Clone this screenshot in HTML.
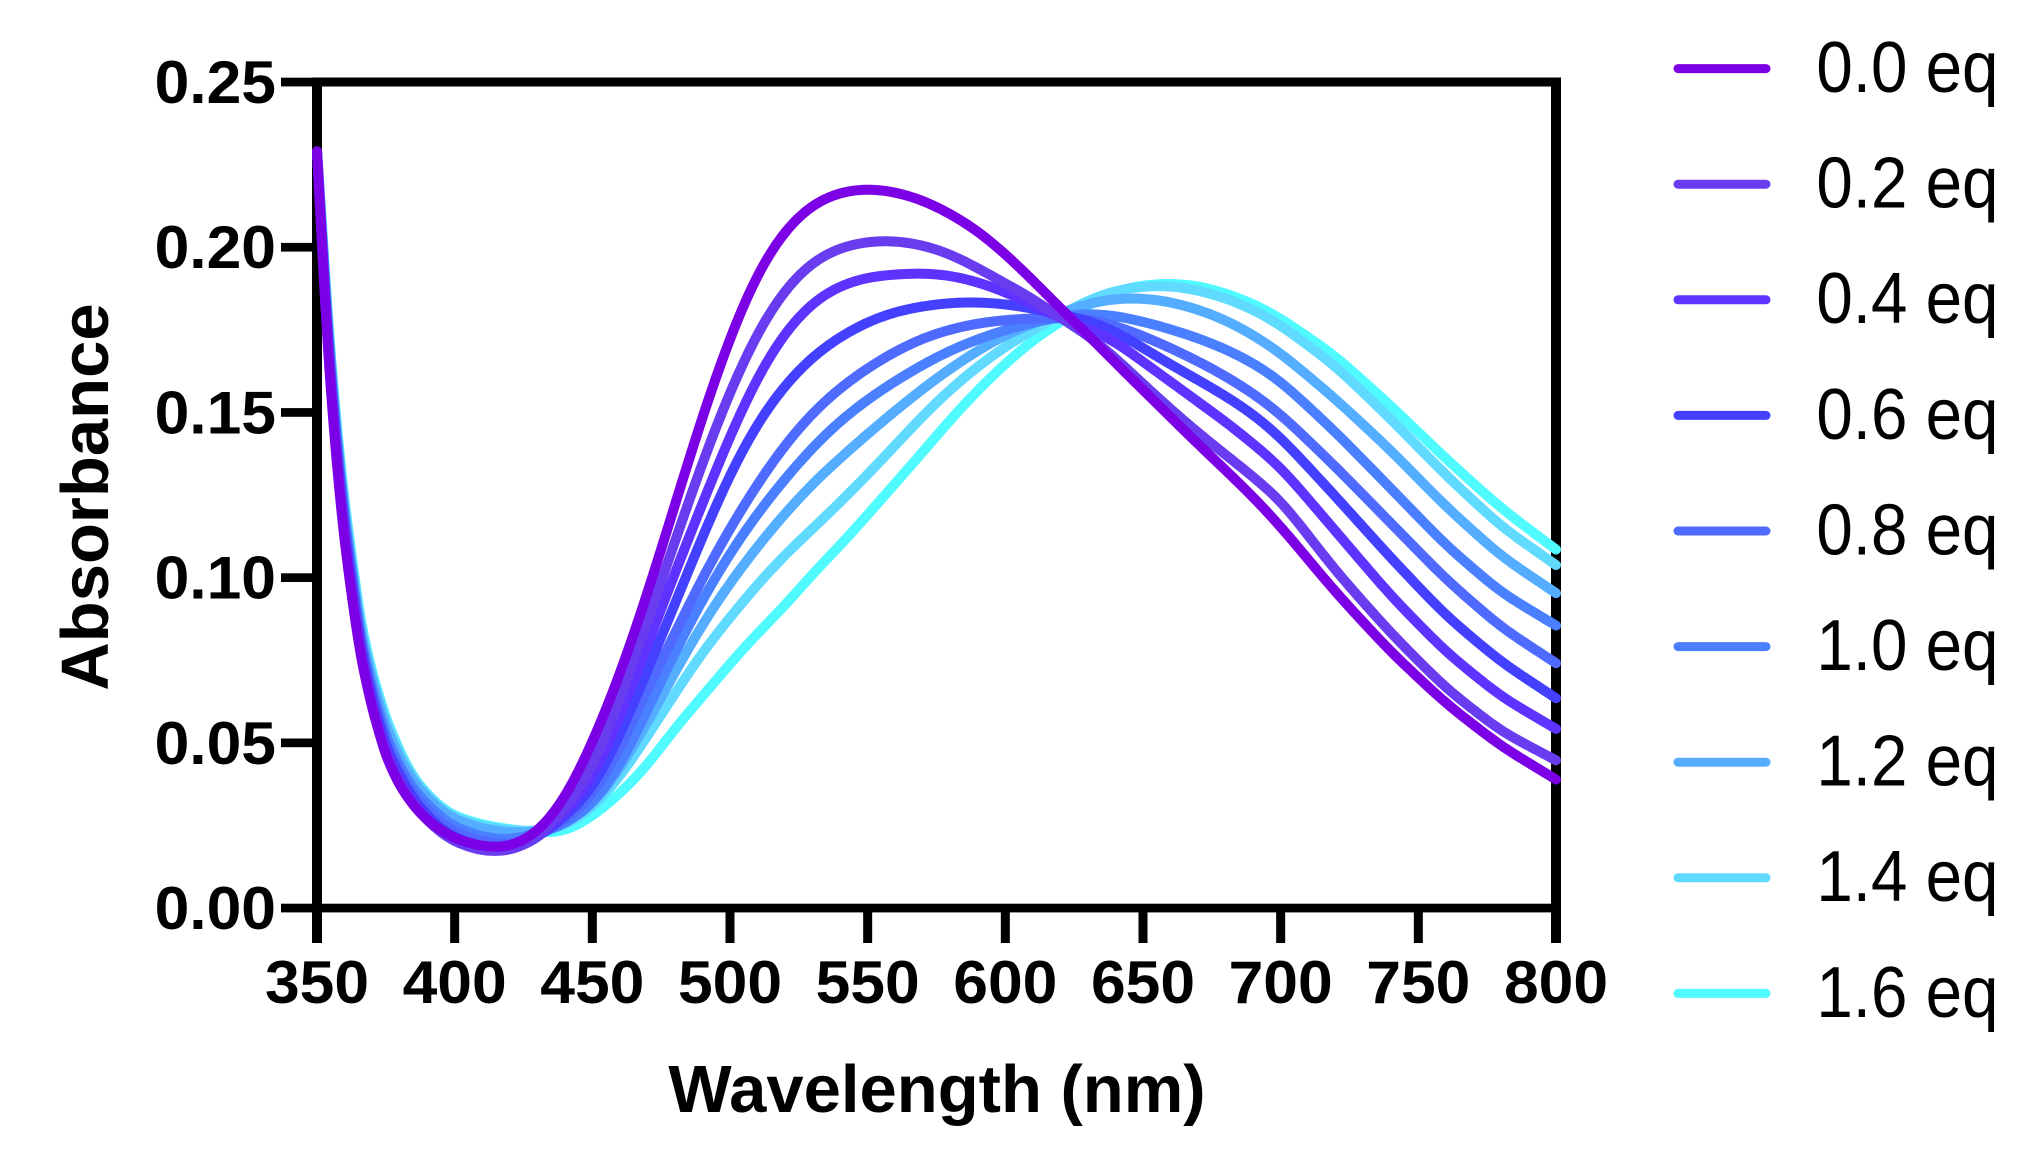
<!DOCTYPE html>
<html lang="en">
<head>
<meta charset="utf-8">
<title>Absorbance vs Wavelength</title>
<style>
html,body{margin:0;padding:0;background:#fff;}
svg{display:block;}
text{font-family:"Liberation Sans",sans-serif;fill:#000;}
.tick{font-weight:bold;font-size:60px;}
.title{font-weight:bold;font-size:67px;}
.leg{font-size:72px;}
</style>
</head>
<body>
<svg id="chart" xmlns="http://www.w3.org/2000/svg" width="2032" height="1157" viewBox="0 0 2032 1157">
  <rect x="0" y="0" width="2032" height="1157" fill="#fff"/>
  <g id="frame"></g>
  <g id="curves" fill="none" stroke-linecap="round" stroke-linejoin="round"></g>
  <g id="ticks"></g>
  <text class="title" x="937" y="1112" text-anchor="middle">Wavelength (nm)</text>
  <text class="title" text-anchor="middle" transform="translate(108,497) rotate(-90)">Absorbance</text>
  <g>
    <g><line x1="1678" x2="1766" y1="68.6" y2="68.6" stroke="#7B00E6" stroke-width="9" stroke-linecap="round"/><text class="leg" text-anchor="end" transform="translate(1998.5,92) scale(.91,1)">0.0 eq</text></g>
    <g><line x1="1678" x2="1766" y1="184.2" y2="184.2" stroke="#6A3CEF" stroke-width="9" stroke-linecap="round"/><text class="leg" text-anchor="end" transform="translate(1998.5,207.6) scale(.91,1)">0.2 eq</text></g>
    <g><line x1="1678" x2="1766" y1="299.8" y2="299.8" stroke="#5E33FF" stroke-width="9" stroke-linecap="round"/><text class="leg" text-anchor="end" transform="translate(1998.5,323.2) scale(.91,1)">0.4 eq</text></g>
    <g><line x1="1678" x2="1766" y1="415.4" y2="415.4" stroke="#4440FF" stroke-width="9" stroke-linecap="round"/><text class="leg" text-anchor="end" transform="translate(1998.5,438.8) scale(.91,1)">0.6 eq</text></g>
    <g><line x1="1678" x2="1766" y1="531" y2="531" stroke="#4F6BFF" stroke-width="9" stroke-linecap="round"/><text class="leg" text-anchor="end" transform="translate(1998.5,554.4) scale(.91,1)">0.8 eq</text></g>
    <g><line x1="1678" x2="1766" y1="646.6" y2="646.6" stroke="#4A80FF" stroke-width="9" stroke-linecap="round"/><text class="leg" text-anchor="end" transform="translate(1998.5,670) scale(.91,1)">1.0 eq</text></g>
    <g><line x1="1678" x2="1766" y1="762.2" y2="762.2" stroke="#54ADFF" stroke-width="9" stroke-linecap="round"/><text class="leg" text-anchor="end" transform="translate(1998.5,785.6) scale(.91,1)">1.2 eq</text></g>
    <g><line x1="1678" x2="1766" y1="877.8" y2="877.8" stroke="#60DAFF" stroke-width="9" stroke-linecap="round"/><text class="leg" text-anchor="end" transform="translate(1998.5,901.2) scale(.91,1)">1.4 eq</text></g>
    <g><line x1="1678" x2="1766" y1="993.4" y2="993.4" stroke="#50FBFF" stroke-width="9" stroke-linecap="round"/><text class="leg" text-anchor="end" transform="translate(1998.5,1016.8) scale(.91,1)">1.6 eq</text></g>
  </g>
</svg>
<script>
const wavelengths = [
350,352,354,356,358,360,363,366,370,375,
380,385,390,395,400,410,420,430,440,450,
460,470,480,490,500,510,520,530,540,550,
560,570,580,590,600,610,620,630,640,650,
660,670,680,690,700,720,740,760,780,800];

const eq00 = [
.229,.197,.168,.146,.127,.111,.092,.0755,.0605,.046,
.037,.031,.0265,.0235,.021,.0186,.0184,.0226,.0325,.0497,
.0703,.095,.122,.149,.173,.1925,.2055,.2132,.2168,.2178,
.2168,.2143,.2102,.205,.198,.19,.1815,.1735,.165,.1568,
.1486,.1404,.1325,.1245,.1155,.0955,.0775,.0619,.049,.0389];
const eq02 = [
.229,.198,.169,.147,.128,.112,.093,.076,.061,.0465,
.0375,.031,.0265,.0228,.02,.0172,.0172,.021,.03,.0415,
.063,.0865,.111,.135,.1565,.1745,.1875,.1958,.2,.2018,
.202,.2007,.198,.1937,.189,.1845,.1785,.1735,.1665,.1586,
.151,.1438,.1372,.1305,.1235,.102,.0832,.0665,.0535,.0447];
const eq04 = [
.229,.199,.17,.148,.129,.113,.094,.077,.062,.0475,
.0385,.0318,.027,.023,.0203,.0175,.0172,.0208,.0285,.0385,
.0577,.0795,.1015,.1225,.143,.161,.1745,.1835,.1885,.191,
.1918,.1922,.1915,.1895,.1865,.1825,.1785,.1755,.1715,.1653,
.1593,.1532,.1472,.1405,.1335,.114,.0945,.0775,.064,.0542];
const eq06 = [
.229,.2,.171,.15,.131,.115,.096,.0785,.0635,.049,
.04,.033,.028,.024,.0213,.0182,.0178,.0212,.0275,.0355,
.052,.072,.092,.1125,.1315,.147,.1585,.167,.173,.1775,
.1805,.1822,.1832,.1834,.1828,.1815,.1795,.178,.1745,.1695,
.1645,.1598,.155,.1495,.1425,.1245,.106,.0885,.0745,.0635];
const eq08 = [
.229,.201,.173,.152,.133,.117,.098,.08,.065,.0505,
.0415,.0345,.0295,.0258,.023,.02,.019,.0218,.026,.0335,
.0477,.0665,.0831,.1,.115,.1285,.1403,.15,.1575,.1635,
.1685,.1725,.1752,.177,.178,.1785,.1785,.1785,.1762,.1732,
.1695,.1655,.161,.1558,.1495,.1335,.1165,.0995,.085,.0741];
const eq10 = [
.229,.202,.174,.153,.134,.118,.099,.081,.0665,.052,
.043,.036,.0315,.0275,.0245,.0215,.0205,.0226,.025,.0312,
.0425,.06,.0775,.0935,.1075,.1195,.13,.1395,.1475,.154,
.1595,.1645,.1688,.1722,.175,.1772,.179,.18,.1793,.1775,
.1752,.1725,.1692,.165,.1595,.144,.127,.1098,.0955,.0855];
const eq12 = [
.229,.203,.176,.155,.136,.12,.101,.083,.069,.055,
.0455,.0382,.0335,.0295,.0268,.024,.0228,.0228,.0255,.0305,
.042,.056,.0715,.086,.0985,.1095,.1195,.1285,.1362,.1435,
.1505,.1572,.1633,.1688,.1735,.177,.18,.183,.1845,.1846,
.1835,.1812,.178,.1735,.168,.154,.1385,.1215,.1065,.0953];
const eq14 = [
.229,.204,.177,.156,.138,.122,.103,.085,.0705,.0568,
.047,.0392,.0342,.0302,.0275,.0248,.0235,.0232,.0245,.03,
.0395,.052,.065,.0775,.088,.098,.107,.1148,.1228,.1312,
.14,.149,.157,.164,.17,.175,.1795,.184,.187,.1882,
.1884,.187,.1847,.1812,.1765,.164,.148,.131,.1155,.1038];
const eq16 = [
.229,.205,.178,.157,.139,.123,.104,.086,.0713,.0575,
.0475,.0395,.0345,.0305,.0278,.0252,.0238,.0228,.0228,.0276,
.0345,.043,.0545,.064,.074,.0832,.0915,.1012,.1097,.119,
.1285,.138,.1478,.1568,.1648,.172,.1775,.1825,.1868,.1886,
.1891,.1884,.1861,.183,.1785,.167,.152,.136,.121,.1085];

const xTickValues = [350,400,450,500,550,600,650,700,750,800];
const yTickValues = [0,0.05,0.10,0.15,0.20,0.25];
const yTickLabels = ["0.00","0.05","0.10","0.15","0.20","0.25"];
const seriesNames = ["0-0","0-2","0-4","0-6","0-8","1-0","1-2","1-4","1-6"];
const seriesColors = ["#7B00E6","#6A3CEF","#5E33FF","#4440FF","#4F6BFF","#4A80FF","#54ADFF","#60DAFF","#50FBFF"];
const seriesValues = [eq00,eq02,eq04,eq06,eq08,eq10,eq12,eq14,eq16];

const NS = "http://www.w3.org/2000/svg";
const plot = {x0:317, x1:1556, y0:908, y1:82, xMin:350, xMax:800, yMin:0, yMax:0.25};
function xScale(v){ return plot.x0 + (v-plot.xMin)/(plot.xMax-plot.xMin)*(plot.x1-plot.x0); }
function yScale(v){ return plot.y0 - (v-plot.yMin)/(plot.yMax-plot.yMin)*(plot.y0-plot.y1); }
function make(tag, attrs, parent){
  const el = document.createElementNS(NS, tag);
  for(const k in attrs){ el.setAttribute(k, attrs[k]); }
  parent.appendChild(el);
  return el;
}
function lerpAt(xs, ys, w){
  let i = 0;
  while(i < xs.length-2 && xs[i+1] < w){ i++; }
  const t = (w-xs[i])/(xs[i+1]-xs[i]);
  return ys[i] + t*(ys[i+1]-ys[i]);
}
function bandwidth(w){
  if(w < 370){ return 1; }
  if(w < 440){ return 1 + (w-370)/70*4; }
  return 5;
}
function smoothValue(xs, ys, w){
  const s = bandwidth(w);
  const h = Math.min(Math.ceil(3*s), w-plot.xMin, plot.xMax-w);
  let sum = 0, weight = 0;
  for(let d=-h; d<=h; d+=0.5){
    const g = Math.exp(-d*d/(2*s*s));
    sum += g*lerpAt(xs, ys, w+d);
    weight += g;
  }
  return sum/weight;
}
function curvePath(xs, ys){
  let d = "";
  for(let w=plot.xMin; w<=plot.xMax; w+=1){
    const v = smoothValue(xs, ys, w);
    d += (w===plot.xMin ? "M" : "L") + xScale(w).toFixed(2) + " " + yScale(v).toFixed(2);
  }
  return d;
}

const frame = document.getElementById("frame");
const ticks = document.getElementById("ticks");
const curves = document.getElementById("curves");

const leftAxis = make("rect",{x:plot.x0-5,y:plot.y1-4.5,width:10,height:943-plot.y1+4.5,fill:"#000"},frame);


const bottomAxis = make("rect",{x:plot.x0,y:plot.y0-4.3,width:plot.x1-plot.x0,height:8.7,fill:"#000"},frame);


const topAxis = make("rect",{x:plot.x0,y:plot.y1-4.5,width:plot.x1-plot.x0,height:9,fill:"#000"},frame);


const rightAxis = make("rect",{x:plot.x1-5,y:plot.y1-4.5,width:10,height:943-plot.y1+4.5,fill:"#000"},frame);



xTickValues.forEach(function(v){
  const edge = (v===plot.xMin || v===plot.xMax);
  const w = edge ? 10 : 9;
  const mark = make("rect",{x:xScale(v)-w/2,y:plot.y0,width:w,height:943-plot.y0,fill:"#000"},ticks);
  
  
  const label = make("text",{class:"tick","text-anchor":"middle",transform:"translate("+xScale(v)+",1003) scale(1.04,1)"},ticks);
  
  
  label.textContent = String(v);
});
yTickValues.forEach(function(v,i){
  const mark = make("rect",{x:281,y:yScale(v)-4.3,width:plot.x0-281,height:8.7,fill:"#000"},ticks);
  
  
  const label = make("text",{class:"tick","text-anchor":"end",transform:"translate(276,"+(yScale(v)+21)+") scale(1.04,1)"},ticks);
  
  
  label.textContent = yTickLabels[i];
});

for(let s=seriesValues.length-1;s>=0;s--){
  const line = make("path",{d:curvePath(wavelengths,seriesValues[s]),stroke:seriesColors[s],"stroke-width":10},curves);
  
  
}
</script>
</body>
</html>
